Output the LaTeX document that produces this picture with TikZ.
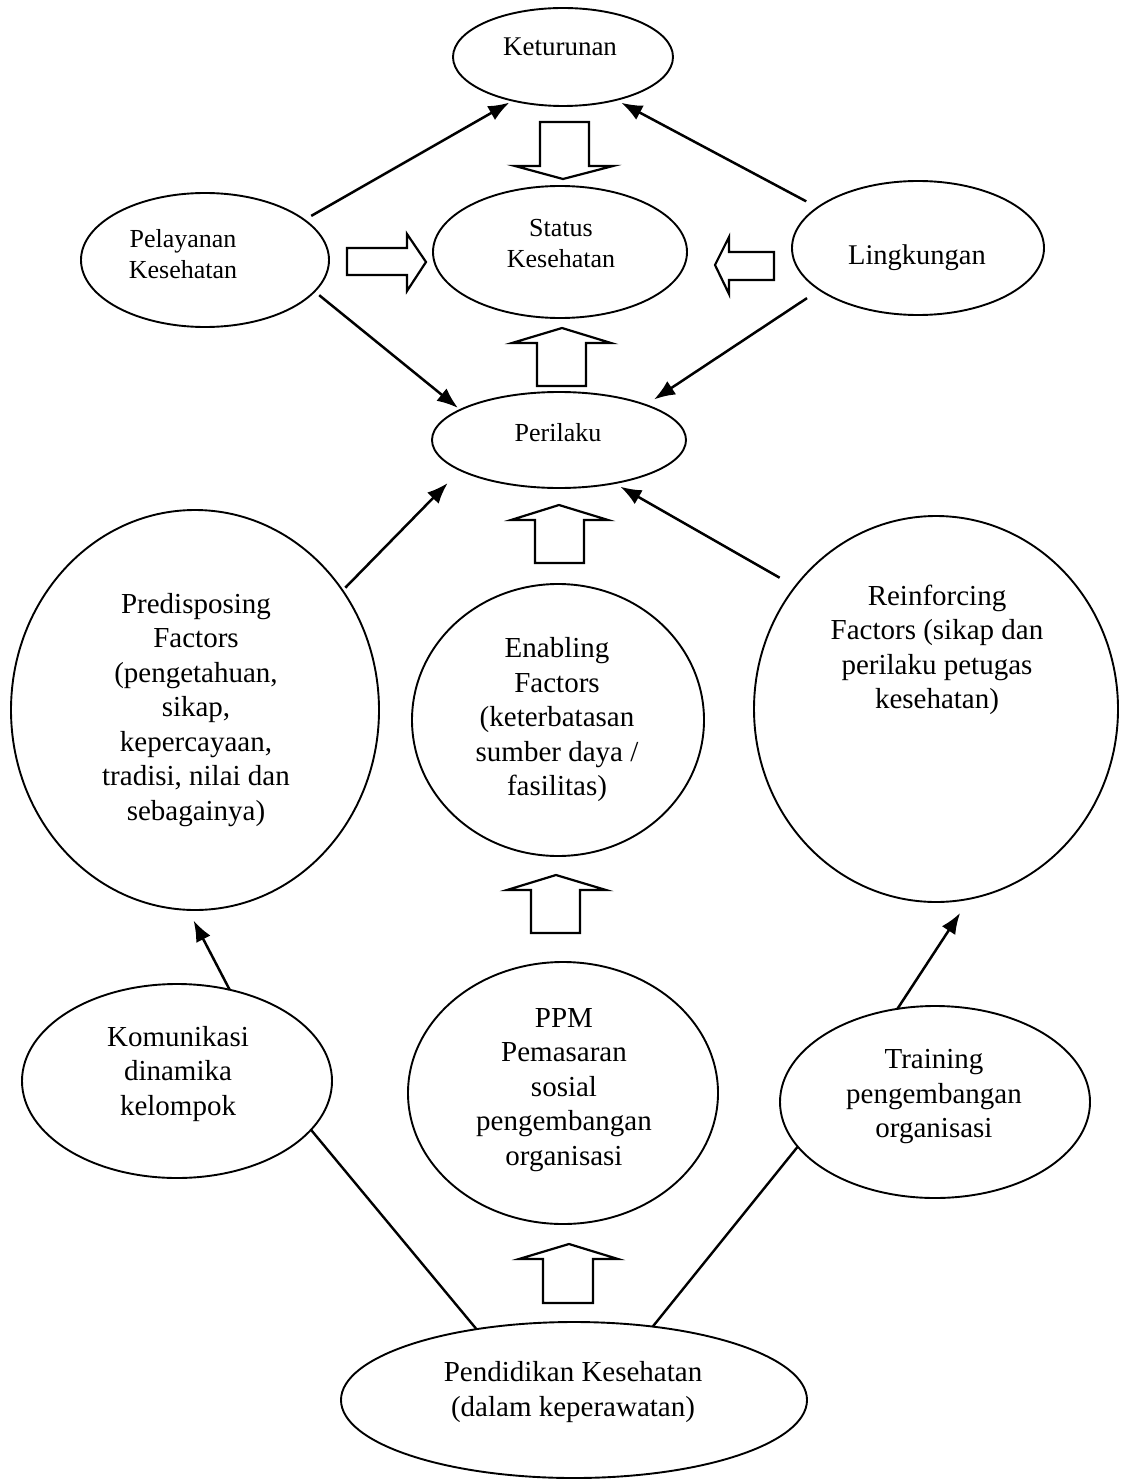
\documentclass[tikz,border=0pt]{standalone}
\usepackage{fontspec}
\setmainfont{Liberation Serif}
\usetikzlibrary{shapes.geometric,arrows.meta,calc}
\begin{document}
\begin{tikzpicture}[x=1pt,y=-1pt,
  oval/.style={ellipse,draw,line width=1.9pt,inner sep=0pt,outer sep=0pt},
  bigtxt/.style={font=\fontsize{29}{34.5}\selectfont,align=center,inner sep=0pt},
  smalltxt/.style={font=\fontsize{26}{31}\selectfont,align=center,inner sep=0pt},
  conn/.style={line width=2.5pt,-{Latex[length=21pt,width=16pt]}},
  plainline/.style={line width=2.4pt},
  blk/.style={draw,line width=2.2pt,line join=miter,fill=white}]
\useasboundingbox (0,0) rectangle (1120,1479);
% ellipses
\node[oval,minimum width=220pt,minimum height=98pt] (ket) at (563,57) {};
\node[oval,minimum width=248pt,minimum height=134pt] (pel) at (205,260) {};
\node[oval,minimum width=254pt,minimum height=132pt] (sta) at (560,252) {};
\node[oval,minimum width=252pt,minimum height=134pt] (lin) at (918,248) {};
\node[oval,minimum width=254pt,minimum height=96pt] (per) at (559,440) {};
\node[oval,minimum width=368pt,minimum height=400pt] (pre) at (195,710) {};
\node[oval,minimum width=292pt,minimum height=272pt] (ena) at (558,720) {};
\node[oval,minimum width=364pt,minimum height=386pt] (rei) at (936,709) {};
\node[oval,minimum width=310pt,minimum height=194pt] (kom) at (177,1081) {};
\node[oval,minimum width=310pt,minimum height=262pt] (ppm) at (563,1093) {};
\node[oval,minimum width=310pt,minimum height=192pt] (tra) at (935,1102) {};
\node[oval,minimum width=466pt,minimum height=156pt] (pen) at (574,1400) {};
% texts
\node[smalltxt,font=\fontsize{27}{31}\selectfont] (kett) at (560,47) {Keturunan};
\node[smalltxt] (pelt) at (183,254) {Pelayanan\\Kesehatan};
\node[smalltxt] (stat) at (561,244) {Status\\Kesehatan};
\node[smalltxt,font=\fontsize{28.5}{31}\selectfont] (lint) at (917,258) {Lingkungan};
\node[smalltxt] (pert) at (558,433) {Perilaku};
\node[bigtxt] (pret) at (196,710) {Predisposing\\Factors\\(pengetahuan,\\sikap,\\kepercayaan,\\tradisi, nilai dan\\sebagainya)};
\node[bigtxt] (enat) at (557,720) {Enabling\\Factors\\(keterbatasan\\sumber daya /\\fasilitas)};
\node[bigtxt] (reit) at (937,650) {Reinforcing\\Factors (sikap dan\\perilaku petugas\\kesehatan)};
\node[bigtxt] (komt) at (178,1074) {Komunikasi\\dinamika\\kelompok};
\node[bigtxt] (ppmt) at (564,1090) {PPM\\Pemasaran\\sosial\\pengembangan\\organisasi};
\node[bigtxt] (trat) at (934,1097) {Training\\pengembangan\\organisasi};
\node[bigtxt] (pent) at (573,1392) {Pendidikan Kesehatan\\(dalam keperawatan)};
% connectors
\draw[conn,shorten <=8pt,shorten >=4pt] (pel.22.8) -- (ket.221.3);
\draw[conn,shorten <=13pt,shorten >=6pt] (lin.158.3) -- (ket.321.5);
\draw[conn,shorten <=6pt,shorten >=3pt] (pel.344) -- (per.163.1);
\draw[conn,shorten <=15pt,shorten >=10pt] (lin.203.9) -- (per.22.1);
\draw[conn,shorten <=4pt,shorten >=18pt] (pre.39.6) -- (per.197.3);
\draw[conn,shorten <=18pt,shorten >=7pt] (rei.139.9) -- (per.322.5);
\draw[conn,shorten >=12pt] (kom.60.2) -- (pre.268.9);
\draw[conn,shorten >=17pt] (tra.112.3) -- (rei.280.9);
\draw[plainline] (pen.144) -- (kom.340.7);
\draw[plainline] (pen.43.8) -- (tra.198.3);
% block arrows
\draw[blk] (540,122) -- (589,122) -- (589,166) -- (613,166) -- (563,179) -- (515,166) -- (540,166) -- cycle;
\draw[blk] (537,386) -- (586,386) -- (586,343) -- (611,343) -- (562,328) -- (512,343) -- (537,343) -- cycle;
\draw[blk] (535,563) -- (584,563) -- (584,520) -- (608,520) -- (559,505) -- (511,520) -- (535,520) -- cycle;
\draw[blk] (531,933) -- (580,933) -- (580,890) -- (606,890) -- (556,875) -- (507,890) -- (531,890) -- cycle;
\draw[blk] (543,1303) -- (593,1303) -- (593,1259) -- (618,1259) -- (569,1244) -- (519,1259) -- (543,1259) -- cycle;
\draw[blk] (347,248) -- (407,248) -- (407,234) -- (426,262) -- (407,291) -- (407,275) -- (347,275) -- cycle;
\draw[blk] (774,252) -- (729,252) -- (729,237) -- (715,265) -- (729,294) -- (729,280) -- (774,280) -- cycle;
\end{tikzpicture}
\end{document}
